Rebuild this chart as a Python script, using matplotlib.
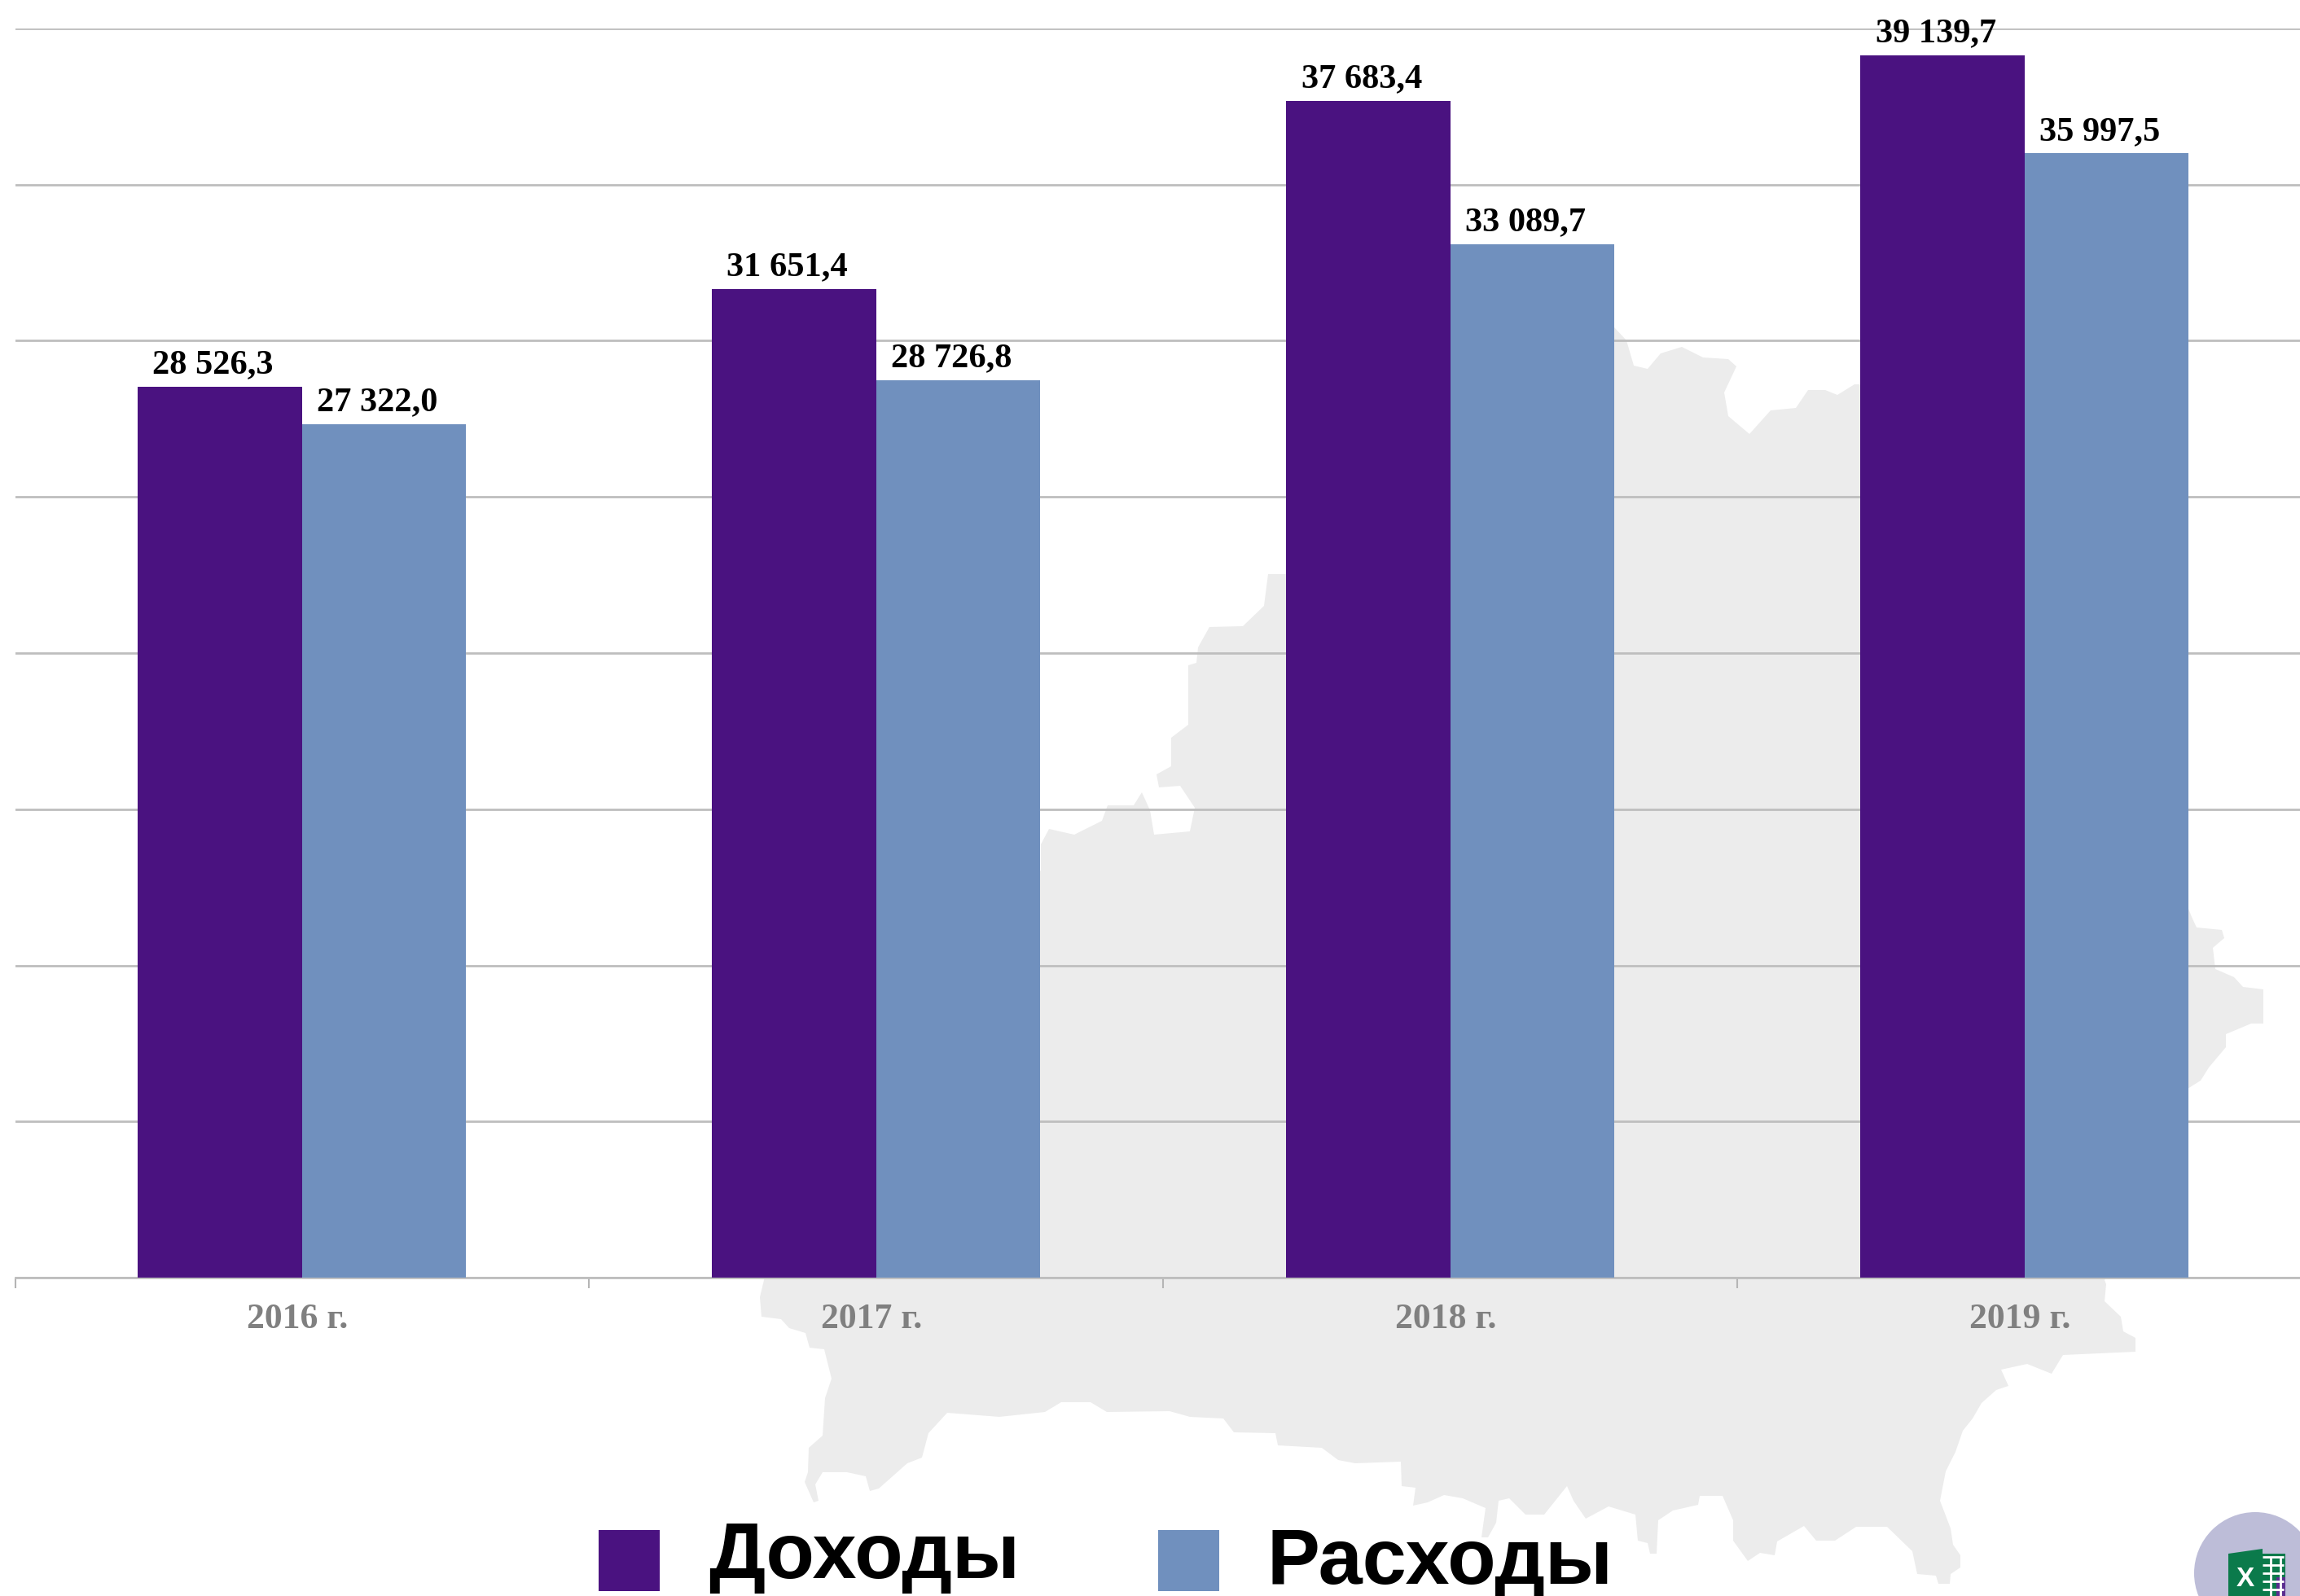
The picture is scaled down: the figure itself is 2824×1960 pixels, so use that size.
import numpy as np
import matplotlib
matplotlib.use("Agg")
import matplotlib.pyplot as plt
from matplotlib.patches import Polygon, Rectangle, Circle

# --- Data ---
years = ["2016 г.", "2017 г.", "2018 г.", "2019 г."]
income = [28526.3, 31651.4, 37683.4, 39139.7]
expenses = [27322.0, 28726.8, 33089.7, 35997.5]
income_labels = ["28 526,3", "31 651,4", "37 683,4", "39 139,7"]
expenses_labels = ["27 322,0", "28 726,8", "33 089,7", "35 997,5"]
legend_names = ["Доходы", "Расходы"]

# outline of the map behind the chart, traced in image pixels
map_outline = [
    (938, 1572), (933, 1593), (935, 1617), (959, 1620), (969, 1631), (989, 1637), (994, 1655),
    (1012, 1657), (1021, 1693), (1013, 1717), (1010, 1763), (993, 1778), (992, 1808), (988, 1820),
    (999, 1845), (1005, 1843), (1001, 1823), (1010, 1808), (1040, 1808), (1063, 1813), (1068, 1831),
    (1079, 1828), (1114, 1797), (1132, 1790), (1140, 1760), (1163, 1735), (1227, 1740), (1283, 1734),
    (1303, 1722), (1339, 1722), (1359, 1734), (1436, 1733), (1461, 1740), (1502, 1742), (1515, 1759),
    (1566, 1760), (1569, 1775), (1623, 1778), (1643, 1793), (1664, 1797), (1720, 1795), (1721, 1825),
    (1738, 1827), (1735, 1849), (1753, 1845), (1773, 1836), (1796, 1840), (1824, 1852), (1819, 1888),
    (1827, 1888), (1837, 1870), (1840, 1843), (1853, 1840), (1873, 1860), (1896, 1860), (1924, 1825),
    (1932, 1843), (1947, 1865), (1975, 1850), (2008, 1860), (2011, 1892), (2023, 1895), (2026, 1908),
    (2034, 1908), (2036, 1867), (2054, 1855), (2085, 1848), (2087, 1837), (2115, 1837), (2128, 1867),
    (2128, 1892), (2146, 1917), (2161, 1907), (2179, 1910), (2182, 1893), (2215, 1874), (2230, 1892),
    (2253, 1892), (2279, 1875), (2317, 1875), (2348, 1905), (2354, 1933), (2377, 1935), (2380, 1945),
    (2394, 1945), (2395, 1933), (2407, 1925), (2407, 1910), (2398, 1897), (2395, 1877), (2382, 1843),
    (2389, 1807), (2401, 1783), (2410, 1757), (2422, 1742), (2433, 1723), (2451, 1707), (2466, 1702),
    (2457, 1682), (2489, 1675), (2519, 1687), (2533, 1664), (2622, 1660), (2622, 1643), (2607, 1635),
    (2604, 1617), (2584, 1598), (2586, 1577), (2584, 1572), (2660, 1400), (2686, 1337), (2702, 1327),
    (2712, 1311), (2733, 1286), (2733, 1270), (2764, 1257), (2779, 1257), (2779, 1215), (2754, 1212),
    (2743, 1200), (2720, 1190), (2717, 1164), (2731, 1152), (2728, 1142), (2697, 1139), (2691, 1126),
    (2600, 900), (2284, 472), (2277, 472), (2256, 485), (2241, 479), (2220, 479), (2205, 501),
    (2174, 504), (2148, 533), (2122, 511), (2117, 482), (2132, 450), (2122, 441), (2091, 439),
    (2065, 426), (2039, 434), (2023, 453), (2006, 449), (1997, 418), (1982, 402), (1800, 500),
    (1578, 705), (1557, 705), (1552, 744), (1526, 769), (1485, 770), (1471, 795), (1469, 814),
    (1459, 817), (1459, 890), (1438, 906), (1438, 941), (1420, 951), (1423, 967), (1449, 965),
    (1467, 992), (1461, 1021), (1417, 1025), (1412, 995), (1402, 973), (1392, 989), (1360, 989),
    (1353, 1008), (1319, 1025), (1288, 1018), (1278, 1037), (1278, 1069), (1000, 1300),
]

PURPLE = "#4A1280"
BLUE = "#7090BE"
GRID = "#BEBEBE"
W, H = 2824, 1960

fig = plt.figure(figsize=(W / 100, H / 100), dpi=100, facecolor="white")

# --- Background layer in image pixels: map, legend, icon ---
bg = fig.add_axes([0, 0, 1, 1], zorder=0)
bg.set_xlim(0, W)
bg.set_ylim(H, 0)
bg.axis("off")
bg.add_patch(Polygon(map_outline, closed=True, facecolor="#ECECEC", edgecolor="none"))

# legend
bg.add_patch(Rectangle((735, 1879), 75, 75, facecolor=PURPLE, edgecolor="none"))
bg.add_patch(Rectangle((1422, 1879), 75, 75, facecolor=BLUE, edgecolor="none"))
bg.text(870, 1938, legend_names[0], family="Liberation Sans", weight="bold", size=70,
        color="black", ha="left", va="baseline")
bg.text(1556, 1945, legend_names[1], family="Liberation Sans", weight="bold", size=70,
        color="black", ha="left", va="baseline")

# excel icon, cut off by the corner of the image
bg.add_patch(Circle((2769, 1932), 75, facecolor="#BDBDD8", edgecolor="none"))
bg.add_patch(Rectangle((2778, 1908), 28, 52, facecolor="#0B7A4B", edgecolor="none"))
bg.hlines([1912, 1922, 1932, 1942, 1952], 2778, 2804, color="white", lw=2)
bg.vlines([2788, 2800], 1912, 1960, color="white", lw=2)
bg.add_patch(Polygon([(2736, 1908), (2778, 1902), (2778, 1960), (2736, 1960)],
                     closed=True, facecolor="#0B7A4B", edgecolor="none"))
bg.add_patch(Rectangle((2795, 1937), 11, 23, facecolor="#5B2D90", edgecolor="none"))
bg.text(2757, 1948, "X", family="Liberation Sans", weight="bold", size=24, color="white",
        ha="center", va="baseline")

# --- Bar chart ---
left = 18.5
base = 1569
top = 35
cat_width = 705
bar_width = 201.5 / cat_width

ax = fig.add_axes([left / W, (H - base) / H, (W - left) / W, (base - top) / H], zorder=1)
ax.patch.set_alpha(0)
x = np.arange(len(years))
b1 = ax.bar(x - bar_width / 2, income, bar_width, color=PURPLE, zorder=3)
b2 = ax.bar(x + bar_width / 2, expenses, bar_width, color=BLUE, zorder=3)

ax.set_xlim(-0.5, (W - left) / cat_width - 0.5)
ax.set_ylim(0, 40000)
ax.set_yticks(np.arange(0, 40001, 5000))
ax.tick_params(axis="y", length=0, labelleft=False)
ax.grid(axis="y", color=GRID, linewidth=2, zorder=1)
ax.set_axisbelow(True)
for s in ["top", "left", "right"]:
    ax.spines[s].set_visible(False)
ax.spines["bottom"].set_color(GRID)
ax.spines["bottom"].set_linewidth(2)

# ticks sit between the categories, labels in the middle of them
ax.set_xticks(x - 0.5)
ax.set_xticklabels([])
ax.tick_params(axis="x", which="major", length=9, width=1.5, color="#B5B5B5")

for xi, name in zip(x, years):
    ax.annotate(name, (xi, 0), xytext=(-4, -44.5), textcoords="offset points",
                family="Liberation Serif", weight="bold", size=31.5, color="#808080",
                ha="center", va="baseline")

for bars, labels in [(b1, income_labels), (b2, expenses_labels)]:
    for bar, label in zip(bars, labels):
        ax.annotate(label, (bar.get_x() + bar.get_width() / 2, bar.get_height()),
                    xytext=(-6.2, 12), textcoords="offset points",
                    family="Liberation Serif", weight="bold", size=30.5, color="black",
                    ha="center", va="baseline", zorder=5, annotation_clip=False)

fig.savefig("out.png", dpi=100)
